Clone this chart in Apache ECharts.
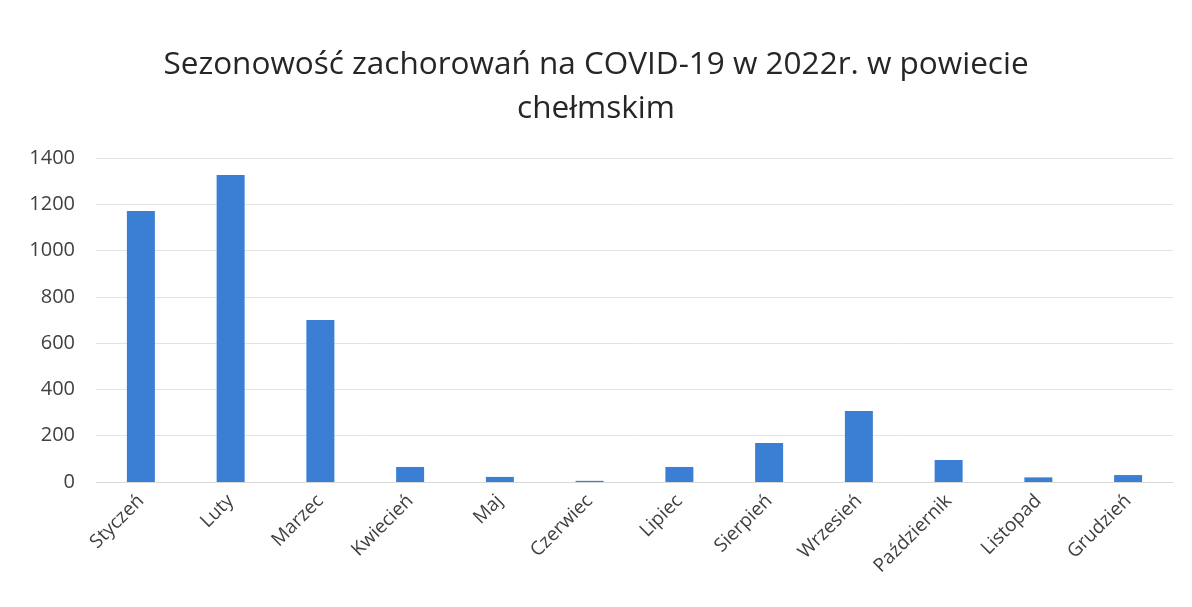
<!DOCTYPE html>
<html><head><meta charset="utf-8">
<script src="https://cdn.jsdelivr.net/npm/echarts@6/dist/echarts.min.js"></script>
<style>html,body{margin:0;padding:0;background:#fff}#c{width:1192px;height:607px}</style>
</head><body><div id="c"></div>
<script>
const categories = ['Styczeń','Luty','Marzec','Kwiecień','Maj','Czerwiec','Lipiec','Sierpień','Wrzesień','Październik','Listopad','Grudzień'];
const cases = [1171, 1327, 700, 65, 22, 5, 65, 168, 307, 95, 20, 30];
const yTicks = [0, 200, 400, 600, 800, 1000, 1200, 1400];
const titleText = 'Sezonowość zachorowań na COVID-19 w 2022r. w powiecie\nchełmskim';

const chart = echarts.init(document.getElementById('c'));
chart.setOption({
  animation: false,
  backgroundColor: '#fff',
  title: {
    text: titleText, left: 'center', top: 38,
    textStyle: { fontFamily: 'Open Sans', fontSize: 31.5, fontWeight: 'normal', color: '#262626', lineHeight: 44 }
  },
  grid: { left: 96, right: 19, top: 158, bottom: 125 },
  xAxis: {
    type: 'category', data: categories,
    axisLine: { lineStyle: { color: '#d9d9d9' } },
    axisTick: { show: false },
    axisLabel: { rotate: 45, interval: 0, fontFamily: 'Open Sans', fontSize: 19, color: '#404040', margin: 16 }
  },
  yAxis: {
    type: 'value', min: yTicks[0], max: yTicks[yTicks.length-1], interval: 200,
    axisLine: { show: false }, axisTick: { show: false },
    splitLine: { lineStyle: { color: '#e3e3e3' } },
    axisLabel: { fontFamily: 'Open Sans', fontSize: 20, color: '#404040', margin: 21, formatter: v => String(v) }
  },
  series: [{
    type: 'bar', data: cases, barWidth: 28,
    itemStyle: { color: '#3b7fd4' }
  }]
});
</script></body></html>
